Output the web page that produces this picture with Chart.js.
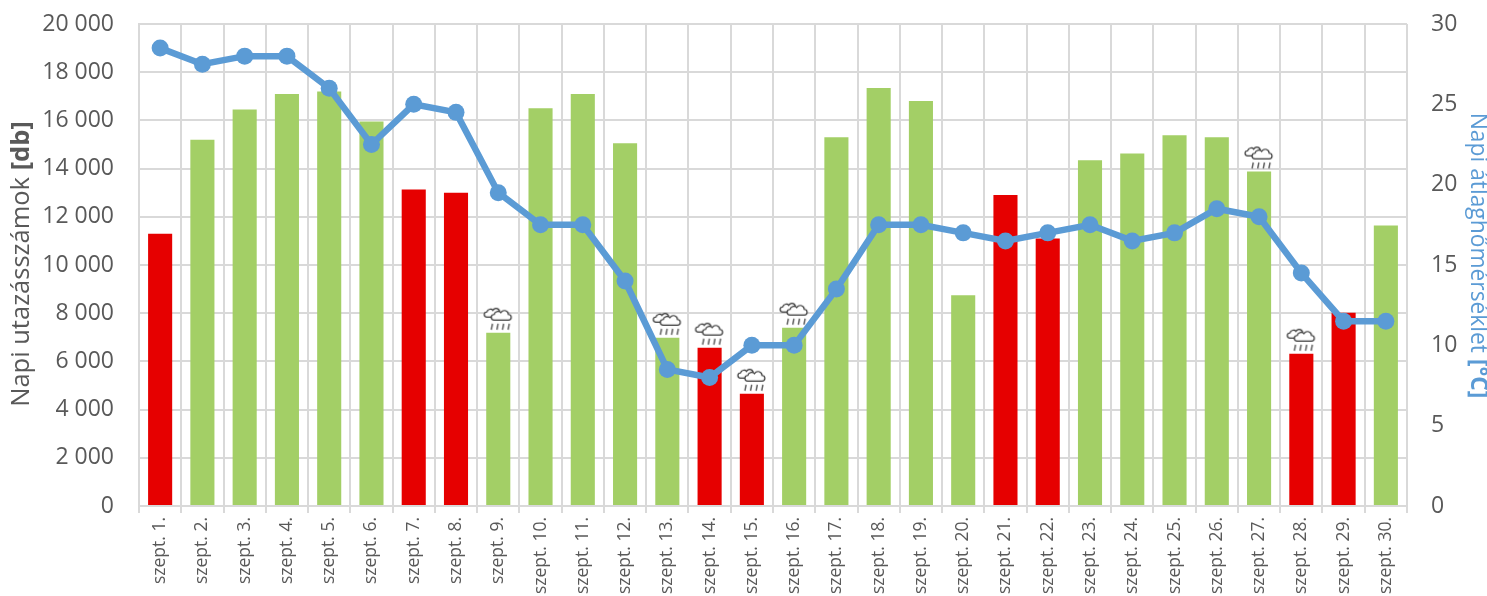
<!DOCTYPE html>
<html><head><meta charset="utf-8">
<style>html,body{margin:0;padding:0;background:#fff}#w{width:1487px;height:596px;position:relative}</style>
<script src="https://cdn.jsdelivr.net/npm/chart.js@4"></script>
</head><body><div id="w"><canvas id="c"></canvas></div>
<script>
const days = Array.from({length:30},(_,i)=>`szept. ${i+1}.`);
const passengers = [11300,15200,16450,17100,17200,15950,13130,13000,7190,16500,17100,15050,6980,6570,4660,7400,15300,17340,16800,8740,12900,11100,14350,14630,15380,15300,13880,6320,8020,11640];
const temperature = [28.5,27.5,28,28,26,22.5,25,24.5,19.5,17.5,17.5,14,8.5,8,10,10,13.5,17.5,17.5,17,16.5,17,17.5,16.5,17,18.5,18,14.5,11.5,11.5];
const redDays = [1,7,8,14,15,21,22,28,29];
const rainyDays = [9,13,14,15,16,27,28];
const leftTitle = ['Napi utazásszámok ','[db]'];
const rightTitle = ['Napi átlaghőmérséklet ','[°C]'];

const GREEN='#A3CF66',RED='#E60000',BLUE='#5B9BD5',TXT='#595959',GRID='#D9D9D9',FONT='"Open Sans"';

function rainIcon(){
  const W=36,H=56,c=document.createElement('canvas');c.width=W;c.height=H;
  const g=c.getContext('2d');
  function cloud(x,y,s){
    g.beginPath();
    g.moveTo(x+3*s,y+11*s);
    g.bezierCurveTo(x-1*s,y+11*s,x-1*s,y+5*s,x+3*s,y+5*s);
    g.bezierCurveTo(x+4*s,y+1*s,x+9*s,y+1*s,x+10*s,y+3*s);
    g.bezierCurveTo(x+13*s,y-1*s,x+18*s,y+1*s,x+18*s,y+5*s);
    g.bezierCurveTo(x+22*s,y+5*s,x+22*s,y+11*s,x+18*s,y+11*s);
    g.closePath();g.fillStyle='#fff';g.fill();g.strokeStyle='#333';g.lineWidth=1.2;g.stroke();
  }
  cloud(4,3,.85);cloud(11,5,.95);
  g.strokeStyle='#555';g.lineWidth=1.4;
  for(let i=0;i<4;i++){const x=11+i*5.6;g.beginPath();g.moveTo(x+1.2,19);g.lineTo(x,25);g.stroke();}
  return c;
}
const icon=rainIcon();

function vText(ctx,parts,x,yCenter,angle,color,size){
  ctx.save();ctx.translate(x,yCenter);ctx.rotate(angle);
  ctx.fillStyle=color;ctx.textBaseline='middle';ctx.textAlign='left';
  ctx.font=`400 ${size}px ${FONT}`;const a=ctx.measureText(parts[0]).width;
  ctx.font=`700 ${size}px ${FONT}`;const b=ctx.measureText(parts[1]).width;
  let s=-(a+b)/2;
  ctx.font=`400 ${size}px ${FONT}`;ctx.fillText(parts[0],s,0);
  ctx.font=`700 ${size}px ${FONT}`;ctx.fillText(parts[1],s+a,0);
  ctx.restore();
}
const axisTitles={id:'axisTitles',afterDraw(ch){
  const c=ch.ctx;
  vText(c,leftTitle,22,264,-Math.PI/2,TXT,25.5);
  vText(c,rightTitle,1477,255.5,Math.PI/2,BLUE,22.8);
}};
const noPad=s=>{s.paddingTop=0;s.paddingBottom=0;s.paddingLeft=0;s.paddingRight=0;};

new Chart(document.getElementById('c'),{
  data:{labels:days,datasets:[
    {type:'line',yAxisID:'y1',data:temperature,order:1,borderColor:BLUE,backgroundColor:BLUE,borderWidth:6.5,pointRadius:8.5,pointBorderWidth:0,pointBackgroundColor:BLUE,pointBorderColor:BLUE,tension:0,label:'Napi átlaghőmérséklet'},
    {type:'line',yAxisID:'y',data:passengers.map((v,i)=>rainyDays.includes(i+1)?v:null),order:2,showLine:false,pointStyle:icon,pointRadius:15,label:'Eső'},
    {type:'bar',yAxisID:'y',data:passengers,order:3,backgroundColor:passengers.map((v,i)=>redDays.includes(i+1)?RED:GREEN),barPercentage:.57,categoryPercentage:1,label:'Napi utazásszámok'}
  ]},
  options:{
    responsive:true,maintainAspectRatio:false,animation:false,
    layout:{padding:{top:24,left:0,right:0,bottom:0}},
    plugins:{legend:{display:false},tooltip:{enabled:false}},
    scales:{
      x:{grid:{color:GRID,lineWidth:2,tickLength:7,offset:true,tickColor:GRID},border:{color:GRID,width:2},
        ticks:{color:TXT,font:{family:FONT,size:17.5},minRotation:90,maxRotation:90,autoSkip:false,padding:4},
        afterFit(s){s.height=90;noPad(s);}},
      y:{position:'left',min:0,max:20000,grid:{color:GRID,lineWidth:2,drawTicks:false},border:{color:GRID,width:2},
        ticks:{stepSize:2000,color:TXT,padding:25,font:{family:FONT,size:23},callback:v=>v===0?'0':String(v).replace(/\B(?=(\d{3})+$)/g,' ')},
        afterFit(s){s.width=139;noPad(s);}},
      y1:{position:'right',min:0,max:30,grid:{drawOnChartArea:false,drawTicks:false},border:{display:false},
        ticks:{stepSize:5,color:TXT,padding:24,font:{family:FONT,size:23}},
        afterFit(s){s.width=80;noPad(s);}}
    }
  },
  plugins:[axisTitles]
});
</script></body></html>
